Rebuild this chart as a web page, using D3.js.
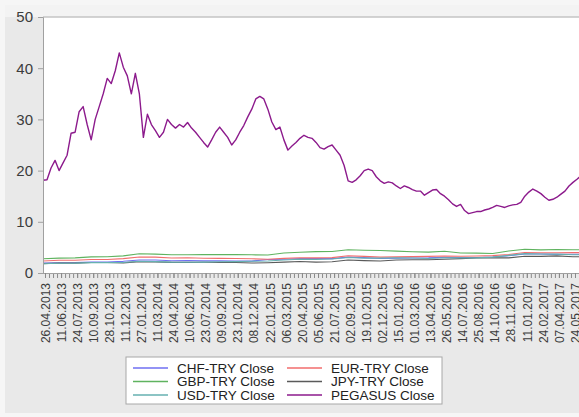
<!DOCTYPE html>
<html>
<head>
<meta charset="utf-8">
<script src="https://cdn.jsdelivr.net/npm/d3@7"></script>
<style>
  body { margin: 0; background: #f6f6f6; }
  svg { display: block; font-family: "Liberation Sans", Arial, sans-serif; }
</style>
</head>
<body>
<svg id="chart" width="579" height="417"></svg>
<script>
// tick labels on the x axis (one every 32 observations)
var dateLabels = ["26.04.2013", "11.06.2013", "24.07.2013", "10.09.2013", "28.10.2013", "11.12.2013",
    "27.01.2014", "11.03.2014", "24.04.2014", "10.06.2014", "23.07.2014", "09.09.2014", "23.10.2014",
    "08.12.2014", "22.01.2015", "06.03.2015", "20.04.2015", "05.06.2015", "21.07.2015", "02.09.2015",
    "19.10.2015", "02.12.2015", "15.01.2016", "01.03.2016", "13.04.2016", "26.05.2016", "14.07.2016",
    "25.08.2016", "14.10.2016", "28.11.2016", "11.01.2017", "24.02.2017", "07.04.2017", "24.05.2017"];

var yTicks = [0, 10, 20, 30, 40, 50];

// currencies, one value every 32 observations
var chf = [1.92, 2.01, 2.02, 2.13, 2.15, 2.28, 2.55, 2.53, 2.40, 2.43, 2.36, 2.36, 2.35, 2.32, 2.65, 2.68, 2.80,
    2.80, 2.80, 3.10, 3.00, 2.83, 2.91, 2.93, 2.95, 3.05, 3.02, 3.04, 3.12, 3.36, 3.72, 3.71, 3.64, 3.65, 3.68];
var eur = [2.35, 2.50, 2.50, 2.65, 2.65, 2.80, 3.12, 3.10, 2.92, 2.97, 2.88, 2.85, 2.83, 2.78, 2.68, 2.85, 2.97,
    2.95, 3.00, 3.38, 3.25, 3.10, 3.15, 3.20, 3.25, 3.32, 3.28, 3.32, 3.40, 3.62, 4.00, 3.95, 3.95, 3.98, 4.00];
var gbp = [2.78, 2.90, 2.95, 3.15, 3.18, 3.35, 3.75, 3.68, 3.55, 3.55, 3.62, 3.58, 3.62, 3.55, 3.52, 3.90, 4.05,
    4.18, 4.20, 4.55, 4.45, 4.38, 4.28, 4.15, 4.08, 4.25, 3.90, 3.88, 3.80, 4.30, 4.65, 4.52, 4.58, 4.55, 4.50];
var jpy = [1.84, 1.96, 1.93, 2.05, 2.06, 1.98, 2.23, 2.17, 2.07, 2.08, 2.09, 2.06, 2.06, 1.94, 2.00, 2.12, 2.25,
    2.13, 2.20, 2.55, 2.42, 2.35, 2.55, 2.58, 2.60, 2.70, 2.80, 2.93, 2.95, 2.95, 3.28, 3.25, 3.35, 3.18, 3.20];
var usd = [1.80, 1.90, 1.93, 2.03, 2.02, 2.05, 2.29, 2.22, 2.12, 2.11, 2.13, 2.20, 2.23, 2.30, 2.35, 2.55, 2.68,
    2.65, 2.73, 3.04, 2.91, 2.90, 2.97, 2.92, 2.84, 2.97, 2.95, 2.95, 3.10, 3.45, 3.78, 3.70, 3.68, 3.55, 3.55];

// PEGASUS, one value every 8 observations
var pegasus = [18.1, 18.2, 20.5, 22, 20, 21.5, 23, 27.3, 27.5, 31.5, 32.5, 29, 26, 30, 32.5, 35, 38, 37, 39.5, 43,
    40.2, 38.5, 35, 39, 35, 26.5, 31, 29, 27.8, 26.5, 27.5, 30, 29, 28.3, 29, 28.5, 29.4, 28.3, 27.5, 26.5,
    25.5, 24.6, 26, 27.5, 28.5, 27.5, 26.5, 25, 26, 27.5, 28.8, 30.5, 32, 34, 34.5, 34, 32, 29.5, 28, 28.5,
    26, 24, 24.8, 25.5, 26.3, 26.9, 26.5, 26.3, 25.5, 24.5, 24.2, 24.7, 25, 24, 23, 21, 18, 17.7, 18.2, 19,
    20, 20.3, 20, 18.8, 18, 17.5, 17.8, 17.6, 17, 16.5, 17, 16.7, 16.3, 16, 16, 15.2, 15.7, 16.2, 16.3, 15.5,
    15, 14.3, 13.5, 13, 13.4, 12.2, 11.6, 11.8, 12, 12, 12.3, 12.5, 12.8, 13.2, 13, 12.8, 13.1, 13.3, 13.4, 13.8,
    15, 15.8, 16.4, 16, 15.5, 14.8, 14.2, 14.4, 14.8, 15.4, 16, 17, 17.7, 18.3, 19];

var series = [
    { name: "CHF-TRY Close", values: chf, step: 32, color: "#6f6ff2" },
    { name: "EUR-TRY Close", values: eur, step: 32, color: "#f26d6d" },
    { name: "GBP-TRY Close", values: gbp, step: 32, color: "#5fb35f" },
    { name: "JPY-TRY Close", values: jpy, step: 32, color: "#5a5a5a" },
    { name: "USD-TRY Close", values: usd, step: 32, color: "#66b0b0" },
    { name: "PEGASUS Close", values: pegasus, step: 8, color: "#8c1a8c" }
];

var svg = d3.select("#chart");
var plotL = 43, plotR = 579, plotT = 17, plotB = 273;

// grey panel behind everything
svg.append("rect").attr("x", 5).attr("y", 5).attr("width", 574).attr("height", 408).attr("fill", "#e9e9e9");
svg.append("rect").attr("x", 5).attr("y", 5).attr("width", 574).attr("height", 12).attr("fill", "#f3f3f3");
svg.append("rect").attr("x", plotL).attr("y", plotT).attr("width", plotR - plotL).attr("height", plotB - plotT)
    .attr("fill", "#ffffff");
svg.append("line").attr("x1", plotL).attr("x2", plotR).attr("y1", plotT).attr("y2", plotT)
    .attr("stroke", "#c4c4c4").attr("stroke-width", 1.5);

var x = d3.scaleLinear().domain([0, 1056]).range([plotL, plotL + 33 * 16.06]);
var y = d3.scaleLinear().domain([0, 50]).range([plotB, plotT]);

svg.append("clipPath").attr("id", "clip").append("rect")
    .attr("x", plotL).attr("y", plotT).attr("width", plotR - plotL).attr("height", plotB - plotT);

var line = d3.line()
    .x(function(d) { return x(d.i); })
    .y(function(d) { return y(d.v); });

svg.append("g").attr("clip-path", "url(#clip)")
    .selectAll("path")
    .data(series)
    .enter().append("path")
    .attr("fill", "none")
    .attr("stroke", function(d) { return d.color; })
    .attr("stroke-width", function(d) { return d.step == 8 ? 1.4 : 1.1; })
    .attr("stroke-linejoin", "round")
    .attr("d", function(d) {
        return line(d.values.map(function(v, k) { return { i: k * d.step, v: v }; }));
    });

// y axis
var yAxis = svg.append("g")
    .attr("transform", "translate(" + plotL + ",0)")
    .call(d3.axisLeft(y).tickValues(yTicks).tickSize(5).tickPadding(5));
yAxis.select(".domain").attr("stroke", "#a0a0a0");
yAxis.selectAll(".tick line").attr("stroke", "#a0a0a0");
yAxis.selectAll("text").attr("font-size", 15).attr("fill", "#3c3c3c")
    .attr("font-family", "Liberation Sans, Arial, sans-serif");

// x axis: minor ticks then labelled ticks
var minor = d3.range(4, 1100, 8);
var xMinor = svg.append("g")
    .attr("transform", "translate(0," + plotB + ")")
    .call(d3.axisBottom(x).tickValues(minor).tickSize(5).tickFormat(""));
xMinor.select(".domain").remove();
xMinor.selectAll(".tick line").attr("stroke", "#8a8a8a");

var labelIdx = dateLabels.map(function(d, i) { return 4 + 32 * i; });
var xAxis = svg.append("g")
    .attr("transform", "translate(0," + plotB + ")")
    .call(d3.axisBottom(x).tickValues(labelIdx).tickSize(5)
        .tickFormat(function(d, i) { return dateLabels[i]; }));
xAxis.select(".domain").attr("stroke", "#a0a0a0").attr("d", "M" + plotL + ",0.5H" + plotR);
xAxis.selectAll(".tick line").attr("stroke", "#8a8a8a");
xAxis.selectAll("text")
    .attr("font-size", 12).attr("fill", "#3c3c3c")
    .attr("font-family", "Liberation Sans, Arial, sans-serif")
    .attr("text-anchor", "end")
    .attr("transform", "rotate(-90)")
    .attr("x", -10).attr("y", 0).attr("dy", "0.35em");

// legend
var legend = svg.append("g").attr("transform", "translate(126,357)");
legend.append("rect").attr("width", 316).attr("height", 47)
    .attr("fill", "#ffffff").attr("stroke", "#a8a8a8");
var item = legend.selectAll("g.item")
    .data(series)
    .enter().append("g")
    .attr("class", "item")
    .attr("transform", function(d, i) {
        return "translate(" + (i % 2 == 0 ? 7 : 161) + "," + (11 + Math.floor(i / 2) * 13.5) + ")";
    });
item.append("line").attr("x1", 0).attr("x2", 35).attr("y1", 0).attr("y2", 0)
    .attr("stroke", function(d) { return d.color; }).attr("stroke-width", 1.3);
item.append("text").attr("x", 44).attr("y", 0).attr("dy", "0.36em")
    .attr("font-size", 13.5).attr("fill", "#222")
    .text(function(d) { return d.name; });
</script>
</body>
</html>
